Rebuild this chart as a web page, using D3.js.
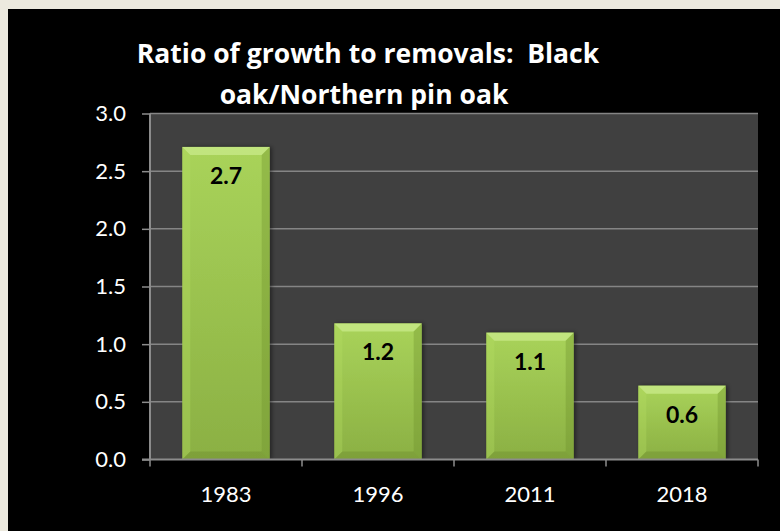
<!DOCTYPE html>
<html>
<head>
<meta charset="utf-8">
<script src="https://cdn.jsdelivr.net/npm/d3@7"></script>
<style>
  html, body { margin: 0; padding: 0; background: #ECE9DE; }
  svg { display: block; }
  text { font-family: Lato, "Open Sans", sans-serif; }
  text.title { font-family: "Open Sans", sans-serif; }
</style>
</head>
<body>
<svg id="chart" width="780" height="531"></svg>
<script>
// Growth-to-removals ratio by inventory year
const years = ["1983", "1996", "2011", "2018"];
const ratios = [2.71, 1.18, 1.10, 0.64];
const yTicks = [0, 0.5, 1.0, 1.5, 2.0, 2.5, 3.0];
const titleLines = ["Ratio of growth to removals:  Black", "oak/Northern pin oak"];

const svg = d3.select("#chart");
const W = 780, H = 531;
const plot = { left: 150, right: 758, top: 113.5, bottom: 459.5 };

// page frame: cream edges, black panel
svg.append("rect").attr("width", W).attr("height", H).attr("fill", "#ECE9DE");
svg.append("rect").attr("x", 8).attr("y", 9).attr("width", W - 8).attr("height", H - 9).attr("fill", "#000");

const x = d3.scaleBand().domain(years).range([plot.left, plot.right]).paddingInner(0.425).paddingOuter(0.2125);
const y = d3.scaleLinear().domain([0, 3]).range([plot.bottom, plot.top]);

// plot area
svg.append("rect")
  .attr("x", plot.left).attr("y", plot.top)
  .attr("width", plot.right - plot.left).attr("height", plot.bottom - plot.top)
  .attr("fill", "#404040");

// gridlines
svg.append("g").selectAll("line").data(yTicks.filter(d => d > 0)).join("line")
  .attr("x1", plot.left).attr("x2", plot.right)
  .attr("y1", d => y(d)).attr("y2", d => y(d))
  .attr("stroke", "#858585").attr("stroke-width", 1.5);

// bar gradients
const defs = svg.append("defs");
const grad = defs.append("linearGradient").attr("id", "barFill").attr("x1", 0).attr("y1", 0).attr("x2", 0).attr("y2", 1);
grad.append("stop").attr("offset", "0%").attr("stop-color", "#a9d35a");
grad.append("stop").attr("offset", "100%").attr("stop-color", "#8bb043");
const shadow = defs.append("filter").attr("id", "barShadow").attr("x", "-20%").attr("y", "-10%").attr("width", "140%").attr("height", "120%");
shadow.append("feDropShadow").attr("dx", 2).attr("dy", 0).attr("stdDeviation", 2).attr("flood-color", "#000").attr("flood-opacity", 0.45);

// bars with bevelled edges
const bev = 8;
const bars = svg.append("g").selectAll("g").data(years.map((yr, i) => ({ yr, v: ratios[i] }))).join("g");
bars.append("rect")
  .attr("x", d => x(d.yr)).attr("y", d => y(d.v))
  .attr("width", x.bandwidth()).attr("height", d => y(0) - y(d.v))
  .attr("fill", "url(#barFill)").attr("filter", "url(#barShadow)");
function facet(d, side) {
  const x0 = x(d.yr), x1 = x0 + x.bandwidth(), y0 = y(d.v), y1 = y(0);
  const pts = {
    top: [[x0, y0], [x1, y0], [x1 - bev, y0 + bev], [x0 + bev, y0 + bev]],
    left: [[x0, y0], [x0 + bev, y0 + bev], [x0 + bev, y1 - bev], [x0, y1]],
    right: [[x1, y0], [x1 - bev, y0 + bev], [x1 - bev, y1 - bev], [x1, y1]],
    bottom: [[x0, y1], [x0 + bev, y1 - bev], [x1 - bev, y1 - bev], [x1, y1]]
  }[side];
  return "M" + pts.map(p => p.join(",")).join("L") + "Z";
}
const facetStyle = { top: ["#c6e785", 0.85], left: ["#b4dc62", 0.35], right: ["#6e8f2c", 0.35], bottom: ["#6f8f2e", 0.45] };
Object.keys(facetStyle).forEach(side => {
  bars.append("path").attr("d", d => facet(d, side))
    .attr("fill", facetStyle[side][0]).attr("opacity", facetStyle[side][1]);
});
bars.append("text")
  .attr("x", d => x(d.yr) + x.bandwidth() / 2)
  .attr("y", d => y(d.v) + 37)
  .attr("text-anchor", "middle")
  .attr("font-size", 23).attr("font-weight", "bold").attr("fill", "#000")
  .text(d => d3.format(".1f")(d.v));

// y axis
const yAxis = svg.append("g").attr("transform", `translate(${plot.left},0)`)
  .call(d3.axisLeft(y).tickValues(yTicks).tickFormat(d3.format(".1f")).tickSize(8).tickPadding(16));
yAxis.select(".domain").attr("stroke", "#8c8c8c").attr("stroke-width", 2).attr("d", `M0,${plot.top}V${plot.bottom}`);
yAxis.selectAll(".tick line").attr("stroke", "#8c8c8c").attr("stroke-width", 1.5);
yAxis.selectAll(".tick text").attr("fill", "#fff").attr("font-size", 22).attr("font-family", "Lato, sans-serif");

// x axis with ticks at category boundaries
const xAxis = svg.append("g").attr("transform", `translate(0,${plot.bottom})`);
xAxis.append("line").attr("x1", plot.left - 8).attr("x2", plot.right)
  .attr("stroke", "#8c8c8c").attr("stroke-width", 2);
const bounds = d3.range(years.length + 1).map(i => plot.left + i * (plot.right - plot.left) / years.length);
xAxis.selectAll(".bt").data(bounds).join("line").attr("class", "bt")
  .attr("x1", d => d).attr("x2", d => d).attr("y1", 0).attr("y2", 7)
  .attr("stroke", "#8c8c8c").attr("stroke-width", 1.5);
xAxis.selectAll(".lbl").data(years).join("text").attr("class", "lbl")
  .attr("x", d => x(d) + x.bandwidth() / 2).attr("y", 42)
  .attr("text-anchor", "middle").attr("fill", "#fff").attr("font-size", 22)
  .text(d => d);

// title
svg.append("g").selectAll("text").data(titleLines).join("text")
  .attr("class", "title")
  .attr("x", (d, i) => i === 0 ? 368 : 364)
  .attr("y", (d, i) => 63 + i * 41)
  .attr("text-anchor", "middle").attr("fill", "#fff")
  .attr("font-size", 26.5).attr("font-weight", "bold")
  .attr("xml:space", "preserve").style("white-space", "pre")
  .text(d => d);
</script>
</body>
</html>
